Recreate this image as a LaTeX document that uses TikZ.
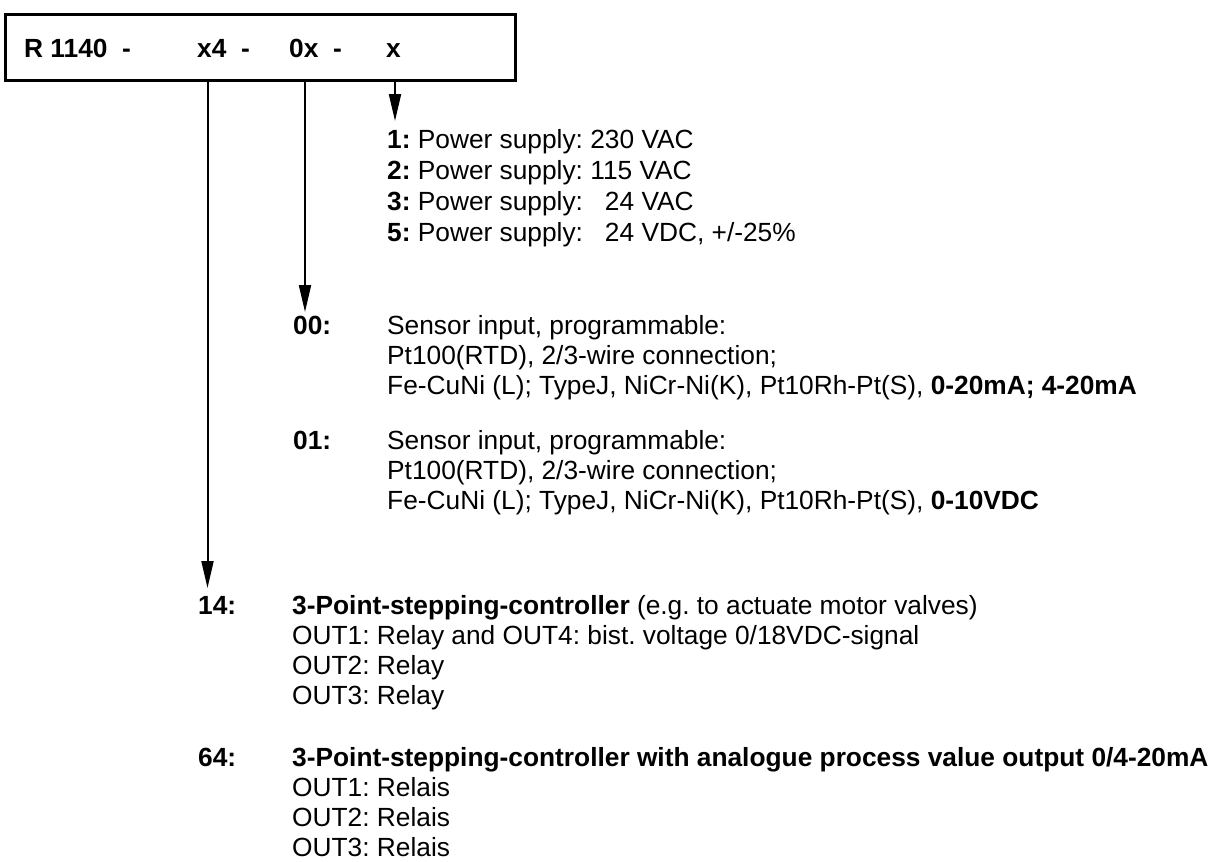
\documentclass[tikz,border=0pt]{standalone}
\usepackage{fontspec}
\setmainfont{Liberation Sans}
\usetikzlibrary{arrows.meta}
\frenchspacing
\begin{document}
\begin{tikzpicture}[x=1pt,y=-1pt,
  txt/.style={anchor=base west,inner sep=0pt,font=\fontsize{26.3}{30.5}\selectfont},
  btxt/.style={txt,font=\fontsize{26.3}{30.5}\selectfont\bfseries},
  codebox/.style={draw,line width=2.5pt,anchor=north west,minimum width=510pt,minimum height=66pt,inner sep=0pt},
  arr/.style={line width=2pt,-{Triangle[length=27pt,width=12pt]}}]
\useasboundingbox (0,0) rectangle (1227,862);
\fill[white] (0,0) rectangle (1227,862);
% code box
\node[codebox] (code) at (4,13) {};
\node[btxt] (c1) at (24,57) {R 1140~~-};
\node[btxt] (c2) at (197,57) {x4~~-};
\node[btxt] (c3) at (289,57) {0x~~-};
\node[btxt] (c4) at (386,57) {x};
% arrow targets
\coordinate (tx) at (395,121);
\coordinate (t0x) at (305,312);
\coordinate (tx4) at (207.5,588);
\draw[arr] (code.south -| tx) -- (tx);
\draw[arr] (code.south -| t0x) -- (t0x);
\draw[arr] (code.south -| tx4) -- (tx4);
% power supply
\node[txt] (p1) at (387,148) {\textbf{1:} Power supply: 230 VAC};
\node[txt] (p2) at (387,179) {\textbf{2:} Power supply: 115 VAC};
\node[txt] (p3) at (387,210) {\textbf{3:} Power supply: \hphantom{2}24 VAC};
\node[txt] (p5) at (387,241) {\textbf{5:} Power supply: \hphantom{2}24 VDC, +/-25\%};
% sensor inputs
\node[btxt] (s00) at (293,334) {00:};
\node[txt] (s00a) at (387,334) {Sensor input, programmable:};
\node[txt] (s00b) at (387,364) {Pt100(RTD), 2/3-wire connection;};
\node[txt] (s00c) at (387,394) {Fe-CuNi (L); TypeJ, NiCr-Ni(K), Pt10Rh-Pt(S), \textbf{0-20mA; 4-20mA}};
\node[btxt] (s01) at (293,449) {01:};
\node[txt] (s01a) at (387,449) {Sensor input, programmable:};
\node[txt] (s01b) at (387,479) {Pt100(RTD), 2/3-wire connection;};
\node[txt] (s01c) at (387,509) {Fe-CuNi (L); TypeJ, NiCr-Ni(K), Pt10Rh-Pt(S), \textbf{0-10VDC}};
% outputs
\node[btxt] (o14) at (198,614) {14:};
\node[txt] (o14a) at (292,614) {\textbf{3-Point-stepping-controller} (e.g. to actuate motor valves)};
\node[txt] (o14b) at (292,644) {OUT1: Relay and OUT4: bist. voltage 0/18VDC-signal};
\node[txt] (o14c) at (292,674) {OUT2: Relay};
\node[txt] (o14d) at (292,704) {OUT3: Relay};
\node[btxt] (o64) at (198,766) {64:};
\node[btxt] (o64a) at (292,766) {3-Point-stepping-controller with analogue process value output 0/4-20mA};
\node[txt] (o64b) at (292,796) {OUT1: Relais};
\node[txt] (o64c) at (292,826) {OUT2: Relais};
\node[txt] (o64d) at (292,856) {OUT3: Relais};
\end{tikzpicture}
\end{document}
